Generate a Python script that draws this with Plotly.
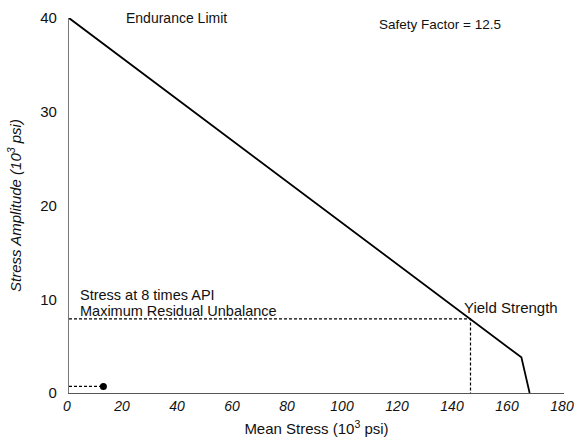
import plotly.graph_objects as go

# Goodman-type diagram data (10^3 psi)
line_mean = [0, 146, 164.5, 167.5]
line_amp = [40, 7.9, 3.8, 0]

yield_mean = 146
yield_amp = 7.9

api_mean = [12.5]
api_amp = [0.7]

x_ticks = [0, 20, 40, 60, 80, 100, 120, 140, 160, 180]
y_ticks = [0, 10, 20, 30, 40]

font = "Liberation Sans, Arial, sans-serif"
dash = "3px,2px"

fig = go.Figure()

# Yield strength reference lines
fig.add_trace(go.Scatter(
    x=[0, yield_mean, yield_mean], y=[yield_amp, yield_amp, 0],
    mode="lines", line=dict(color="black", width=1.2, dash=dash),
    hoverinfo="skip", showlegend=False, cliponaxis=False))

# Operating point under 8x API residual unbalance
fig.add_trace(go.Scatter(
    x=[0, api_mean[0]], y=[api_amp[0], api_amp[0]],
    mode="lines", line=dict(color="black", width=1.2, dash=dash),
    hoverinfo="skip", showlegend=False, cliponaxis=False))
fig.add_trace(go.Scatter(
    x=api_mean, y=api_amp, mode="markers",
    marker=dict(color="black", size=7),
    showlegend=False, cliponaxis=False))

# Allowable stress envelope
fig.add_trace(go.Scatter(
    x=line_mean, y=line_amp, mode="lines",
    line=dict(color="black", width=1.8),
    showlegend=False, cliponaxis=False))


def note(x, y, text, size):
    fig.add_annotation(x=x, y=y, text=text, showarrow=False,
                       xanchor="left", yanchor="middle", align="left",
                       font=dict(family=font, size=size, color="#111"))


note(20, 39.95, "Endurance Limit", 14)
note(112, 39.3, "Safety Factor = 12.5", 13.5)
note(3.4, 10.45, "Stress at 8 times API", 14.5)
note(3.4, 8.8, "Maximum Residual Unbalance", 14.5)
note(143, 9.1, "Yield Strength", 15)

fig.update_layout(
    width=575, height=441,
    margin=dict(l=69, r=11, t=18, b=48),
    plot_bgcolor="white", paper_bgcolor="white",
    font=dict(family=font, size=15, color="#111"),
    xaxis=dict(range=[0, 180], tickvals=x_ticks, ticktext=[f"<i>{v}</i>" for v in x_ticks],
               showgrid=False, zeroline=False, showline=True, linecolor="#555",
               linewidth=1.2, ticks="", ticklen=0, ticklabeloverflow="allow",
               ticklabelshift=-2, automargin=False, tickfont=dict(size=14),
               title=dict(text="Mean Stress (10<sup>3</sup> psi)", standoff=10,
                          font=dict(size=15))),
    yaxis=dict(range=[0, 40], tickvals=y_ticks,
               showgrid=False, zeroline=False, showline=True, linecolor="#777",
               linewidth=1.2, ticks="", ticklen=0, ticklabelstandoff=8,
               automargin=False, tickfont=dict(size=15),
               title=dict(text="<i>Stress Amplitude (10<sup>3</sup> psi)</i>", standoff=14,
                          font=dict(size=15))),
)

fig.write_html("out.html")
